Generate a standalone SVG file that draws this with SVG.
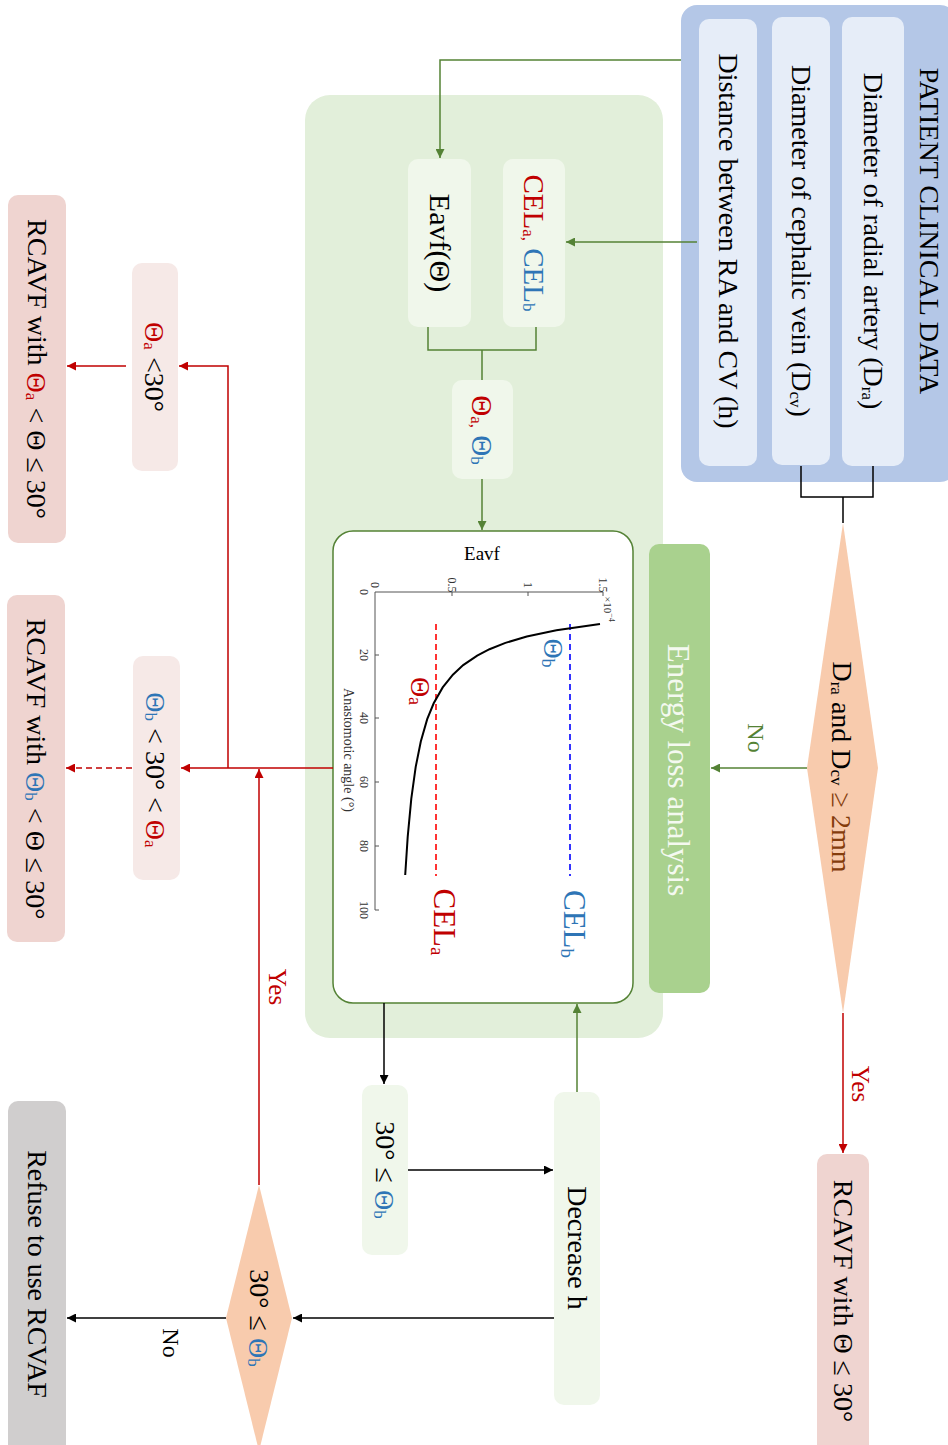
<svg xmlns="http://www.w3.org/2000/svg" width="948" height="1445" viewBox="0 0 948 1445">
<defs>
<style>
.t{font-family:"Liberation Serif","Times New Roman",serif;font-size:28px;fill:#000;text-anchor:middle;dominant-baseline:central}
.r{fill:#c00000}.b{fill:#2e75b6}
.cg{stroke:#548235;stroke-width:1.5;fill:none}
.cr{stroke:#c00000;stroke-width:1.5;fill:none}
.ck{stroke:#000;stroke-width:1.5;fill:none}
.ax{stroke:#555;stroke-width:1;fill:none}
.tk{font-family:"Liberation Serif","Times New Roman",serif;font-size:12px;fill:#333;text-anchor:middle;dominant-baseline:central}
</style>
<marker id="ag" viewBox="0 0 10 10" refX="10" refY="5" markerWidth="11" markerHeight="9" markerUnits="userSpaceOnUse" orient="auto"><path d="M0,0L10,5L0,10z" fill="#548235"/></marker>
<marker id="ar" viewBox="0 0 10 10" refX="10" refY="5" markerWidth="11" markerHeight="9" markerUnits="userSpaceOnUse" orient="auto"><path d="M0,0L10,5L0,10z" fill="#c00000"/></marker>
<marker id="ak" viewBox="0 0 10 10" refX="10" refY="5" markerWidth="11" markerHeight="9" markerUnits="userSpaceOnUse" orient="auto"><path d="M0,0L10,5L0,10z" fill="#000"/></marker>
</defs>
<rect width="948" height="1445" fill="#fff"/>

<g id="patient-data">
<rect x="681" y="5" width="275" height="477" rx="16" fill="#b4c7e7"/>
<text class="t" transform="translate(929,231) rotate(90)">PATIENT CLINICAL DATA</text>
</g>
<g id="dra">
<rect x="842" y="17" width="62" height="449" rx="10" fill="#e6edf8"/>
<text class="t" transform="translate(873,241) rotate(90)">Diameter of radial artery (D<tspan font-size="17" dy="5">ra</tspan><tspan dy="-5">)</tspan></text>
</g>
<g id="dcv">
<rect x="772" y="17" width="58" height="448" rx="10" fill="#e6edf8"/>
<text class="t" transform="translate(801,241) rotate(90)">Diameter of cephalic vein (D<tspan font-size="17" dy="5">cv</tspan><tspan dy="-5">)</tspan></text>
</g>
<g id="h">
<rect x="699" y="19" width="58" height="447" rx="10" fill="#e6edf8"/>
<text class="t" transform="translate(728,241) rotate(90)">Distance between RA and CV (h)</text>
</g>

<g id="energy-container">
<rect x="305" y="95" width="358" height="943" rx="25" fill="#e2efda"/>
</g>
<g id="eavf">
<rect x="408" y="159" width="63" height="168" rx="10" fill="#f0f7eb"/>
<text class="t" font-size="30" style="font-size:30px" transform="translate(440,243) rotate(90)">Eavf(Θ)</text>
</g>
<g id="cel">
<rect x="503" y="159" width="62" height="168" rx="10" fill="#f0f7eb"/>
<text class="t" style="font-size:29px" transform="translate(534,243) rotate(90)"><tspan class="r">CEL<tspan font-size="17" dy="5">a,</tspan></tspan><tspan class="b" dy="-5"> CEL<tspan font-size="17" dy="5">b</tspan></tspan></text>
</g>
<g id="thetas">
<rect x="452" y="380" width="61" height="99" rx="10" fill="#f0f7eb"/>
<text class="t" style="font-size:29px" transform="translate(482,430) rotate(90)"><tspan class="r">Θ<tspan font-size="17" dy="5">a,</tspan></tspan><tspan class="b" dy="-5"> Θ<tspan font-size="17" dy="5">b</tspan></tspan></text>
</g>

<g id="chart">
<rect x="333" y="531" width="300" height="472" rx="20" fill="#fff" stroke="#548235" stroke-width="1.5"/>
<text x="482" y="560" style="font-family:'Liberation Serif','Times New Roman',serif;font-size:19px;text-anchor:middle">Eavf</text>
<path class="ax" d="M375,592H603M375,592V910M452,592v4M528,592v4M603,592v4M375,655h4M375,718h4M375,782h4M375,846h4M375,910h4"/>
<text class="tk" transform="translate(375,585) rotate(90)">0</text>
<text class="tk" transform="translate(452,585) rotate(90)">0.5</text>
<text class="tk" transform="translate(528,585) rotate(90)">1</text>
<text class="tk" transform="translate(603,585) rotate(90)">1.5</text>
<text class="tk" style="font-size:11px" transform="translate(608,609) rotate(90)">×10<tspan font-size="8" dy="-4">−4</tspan></text>
<text class="tk" transform="translate(364,592) rotate(90)">0</text>
<text class="tk" transform="translate(364,655) rotate(90)">20</text>
<text class="tk" transform="translate(364,718) rotate(90)">40</text>
<text class="tk" transform="translate(364,782) rotate(90)">60</text>
<text class="tk" transform="translate(364,846) rotate(90)">80</text>
<text class="tk" transform="translate(364,910) rotate(90)">100</text>
<text class="tk" style="font-size:14px" transform="translate(348,750) rotate(90)">Anastomotic angle (°)</text>
<path d="M436,624V876" stroke="#ff0000" stroke-width="1.6" stroke-dasharray="6,4" fill="none"/>
<path d="M570,624V876" stroke="#0000ff" stroke-width="1.6" stroke-dasharray="6,4" fill="none"/>
<polyline points="600,624 556.4,630.2 526.8,636.5 505.4,642.9 489.5,649.2 477.2,655.6 463.2,665.1 452.9,674.7 442.7,687.4 433.7,703.3 427.2,719.2 420.8,741.5 415.7,766.9 411.3,798.7 407.7,836.9 405.2,875" fill="none" stroke="#000" stroke-width="2"/>
<text class="t b" style="font-size:28px" transform="translate(553,653) rotate(90)">Θ<tspan font-size="18" dy="5">b</tspan></text>
<text class="t r" style="font-size:28px" transform="translate(420,691) rotate(90)">Θ<tspan font-size="18" dy="5">a</tspan></text>
<text class="t b" style="font-size:31px" transform="translate(574,924) rotate(90)">CEL<tspan font-size="19" dy="6">b</tspan></text>
<text class="t r" style="font-size:31px" transform="translate(444,922) rotate(90)">CEL<tspan font-size="19" dy="6">a</tspan></text>
</g>

<g id="energy-loss">
<rect x="649" y="544" width="61" height="449" rx="10" fill="#a9d18e"/>
<text class="t" style="font-size:31px;fill:#f4f9f0" transform="translate(678,770) rotate(90)">Energy loss analysis</text>
</g>

<g id="diameter-check">
<polygon points="843,523 878,768 843,1013 807,768" fill="#f8cbad"/>
<text class="t" transform="translate(842,767) rotate(90)">D<tspan font-size="17" dy="5">ra</tspan><tspan dy="-5"> and D</tspan><tspan font-size="17" dy="5">cv</tspan><tspan dy="-5" fill="#843c0c"> ≥ 2mm</tspan></text>
</g>

<g id="rcavf-30">
<rect x="817" y="1154" width="52" height="300" rx="10" fill="#efd4d0"/>
<text class="t" transform="translate(843,1301) rotate(90)">RCAVF with Θ ≤ 30°</text>
</g>

<g id="theta-a-lt30">
<rect x="132" y="263" width="46" height="208" rx="10" fill="#f6e9e7"/>
<text class="t" transform="translate(155,367) rotate(90)"><tspan class="r">Θ<tspan font-size="17" dy="5">a</tspan></tspan><tspan dy="-5"> &lt;30°</tspan></text>
</g>
<g id="rcavf-a">
<rect x="8" y="195" width="58" height="348" rx="10" fill="#efd4d0"/>
<text class="t" transform="translate(37,369) rotate(90)">RCAVF with <tspan class="r">Θ<tspan font-size="17" dy="5">a</tspan></tspan><tspan dy="-5"> &lt; Θ ≤ 30°</tspan></text>
</g>
<g id="theta-b-range">
<rect x="133" y="656" width="47" height="224" rx="10" fill="#f6e9e7"/>
<text class="t" transform="translate(156,770) rotate(90)"><tspan class="b">Θ<tspan font-size="17" dy="5">b</tspan></tspan><tspan dy="-5"> &lt; 30° &lt; </tspan><tspan class="r">Θ<tspan font-size="17" dy="5">a</tspan></tspan></text>
</g>
<g id="rcavf-b">
<rect x="7" y="595" width="58" height="347" rx="10" fill="#efd4d0"/>
<text class="t" transform="translate(36,769) rotate(90)">RCAVF with <tspan class="b">Θ<tspan font-size="17" dy="5">b</tspan></tspan><tspan dy="-5"> &lt; Θ ≤ 30°</tspan></text>
</g>

<g id="thirty-le-thetab">
<rect x="362" y="1085" width="46" height="170" rx="10" fill="#f0f7eb"/>
<text class="t" transform="translate(385,1170) rotate(90)">30° ≤ <tspan class="b">Θ<tspan font-size="17" dy="5">b</tspan></tspan></text>
</g>
<g id="decrease-h">
<rect x="554" y="1092" width="46" height="313" rx="10" fill="#f0f7eb"/>
<text class="t" transform="translate(577,1248) rotate(90)">Decrease h</text>
</g>
<g id="check-thetab">
<polygon points="259,1185 292,1318 259,1451 226,1318" fill="#f8cbad"/>
<text class="t" transform="translate(259,1318) rotate(90)">30° ≤ <tspan class="b">Θ<tspan font-size="17" dy="5">b</tspan></tspan></text>
</g>
<g id="refuse">
<rect x="8" y="1101" width="58" height="355" rx="10" fill="#d0cece"/>
<text class="t" transform="translate(37,1274) rotate(90)">Refuse to use RCVAF</text>
</g>

<g id="connectors">
<path class="ck" d="M801,466V497H873V466M843,497V523"/>
<path class="cg" d="M681,60H440V158" marker-end="url(#ag)"/>
<path class="cg" d="M697,242H566" marker-end="url(#ag)"/>
<path class="cg" d="M428,327V350H536V327M482,350V380"/>
<path class="cg" d="M482,479V530" marker-end="url(#ag)"/>
<path class="cg" d="M807,768H711" marker-end="url(#ag)"/>
<text class="t" style="font-size:24px;fill:#548235" transform="translate(756,738) rotate(90)">No</text>
<path class="cg" d="M577,1092V1004" marker-end="url(#ag)"/>
<path class="cr" d="M843,1013V1153" marker-end="url(#ar)"/>
<text class="t r" style="font-size:25px" transform="translate(860,1084) rotate(90)">Yes</text>
<path class="cr" d="M333,768H181" marker-end="url(#ar)"/>
<path class="cr" d="M228,768V366H179" marker-end="url(#ar)"/>
<path class="cr" d="M126,366H67" marker-end="url(#ar)"/>
<path class="cr" d="M132,768H66" stroke-dasharray="6,4" marker-end="url(#ar)"/>
<path class="cr" d="M259,1185V769" marker-end="url(#ar)"/>
<text class="t r" style="font-size:25px" transform="translate(277,987) rotate(90)">Yes</text>
<path class="ck" d="M384,1003V1084" marker-end="url(#ak)"/>
<path class="ck" d="M408,1170H553" marker-end="url(#ak)"/>
<path class="ck" d="M554,1318H293" marker-end="url(#ak)"/>
<path class="ck" d="M226,1318H67" marker-end="url(#ak)"/>
<text class="t" style="font-size:24px" transform="translate(171,1343) rotate(90)">No</text>
</g>
</svg>
